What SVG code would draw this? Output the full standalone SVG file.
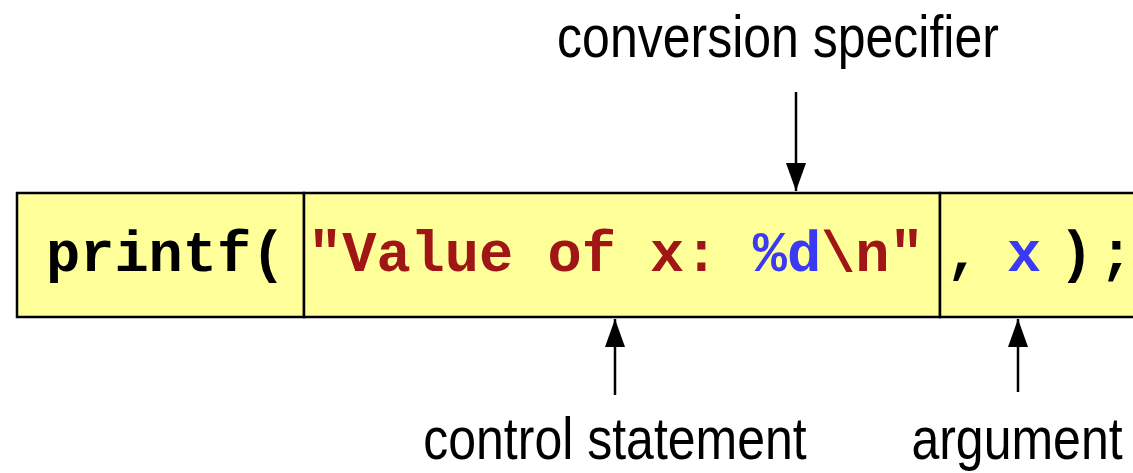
<svg xmlns="http://www.w3.org/2000/svg" width="1133" height="473" viewBox="0 0 1133 473">
<style>
.lbl{font-family:"Liberation Sans",Arial,sans-serif;font-size:50px;fill:#000;text-anchor:middle}
.code{font-family:"Courier New","Liberation Mono",monospace;font-size:57px;font-weight:bold}
.red{fill:#A01515}
.blue{fill:#3A3AF5}
.blk{fill:#000}
.cell{fill:#FFFF99;stroke:#000;stroke-width:2.5}
.arr{stroke:#000;stroke-width:2.5;fill:none}
</style>
<defs>
<marker id="ah" viewBox="0 0 28 20" refX="28" refY="10" markerWidth="28" markerHeight="20" markerUnits="userSpaceOnUse" orient="auto">
<path d="M0,0 L28,10 L0,20 Z" fill="#000"/>
</marker>
</defs>
<rect width="1133" height="473" fill="#fff"/>
<g id="node-printf">
<rect class="cell" x="17" y="193" width="287" height="124"/>
<text class="code blk" x="46" y="271">printf(</text>
</g>
<g id="node-control">
<rect class="cell" x="304" y="193" width="636" height="124"/>
<text class="code" x="308" y="271"><tspan class="red">"Value of x: </tspan><tspan class="blue">%d</tspan><tspan class="red">\n"</tspan></text>
</g>
<g id="node-argument">
<rect class="cell" x="940" y="193" width="200" height="124"/>
<text class="code blk" x="963" y="271" text-anchor="middle">,</text>
<text class="code blue" x="1024" y="271" text-anchor="middle">x</text>
<text class="code blk" x="1076" y="271" text-anchor="middle">)</text>
<text class="code blk" x="1116" y="271" text-anchor="middle">;</text>
</g>
<g id="connectors">
<line class="arr" x1="796" y1="92" x2="796" y2="191" marker-end="url(#ah)"/>
<line class="arr" x1="615" y1="395" x2="615" y2="319" marker-end="url(#ah)"/>
<line class="arr" x1="1018" y1="392" x2="1018" y2="319" marker-end="url(#ah)"/>
</g>
<g id="label-conversion">
<text class="lbl" transform="translate(778,57) scale(1,1.2)">conversion specifier</text>
</g>
<g id="label-control">
<text class="lbl" transform="translate(615,459) scale(1,1.2)">control statement</text>
</g>
<g id="label-argument">
<text class="lbl" transform="translate(1017,459) scale(1,1.2)">argument</text>
</g>
</svg>
